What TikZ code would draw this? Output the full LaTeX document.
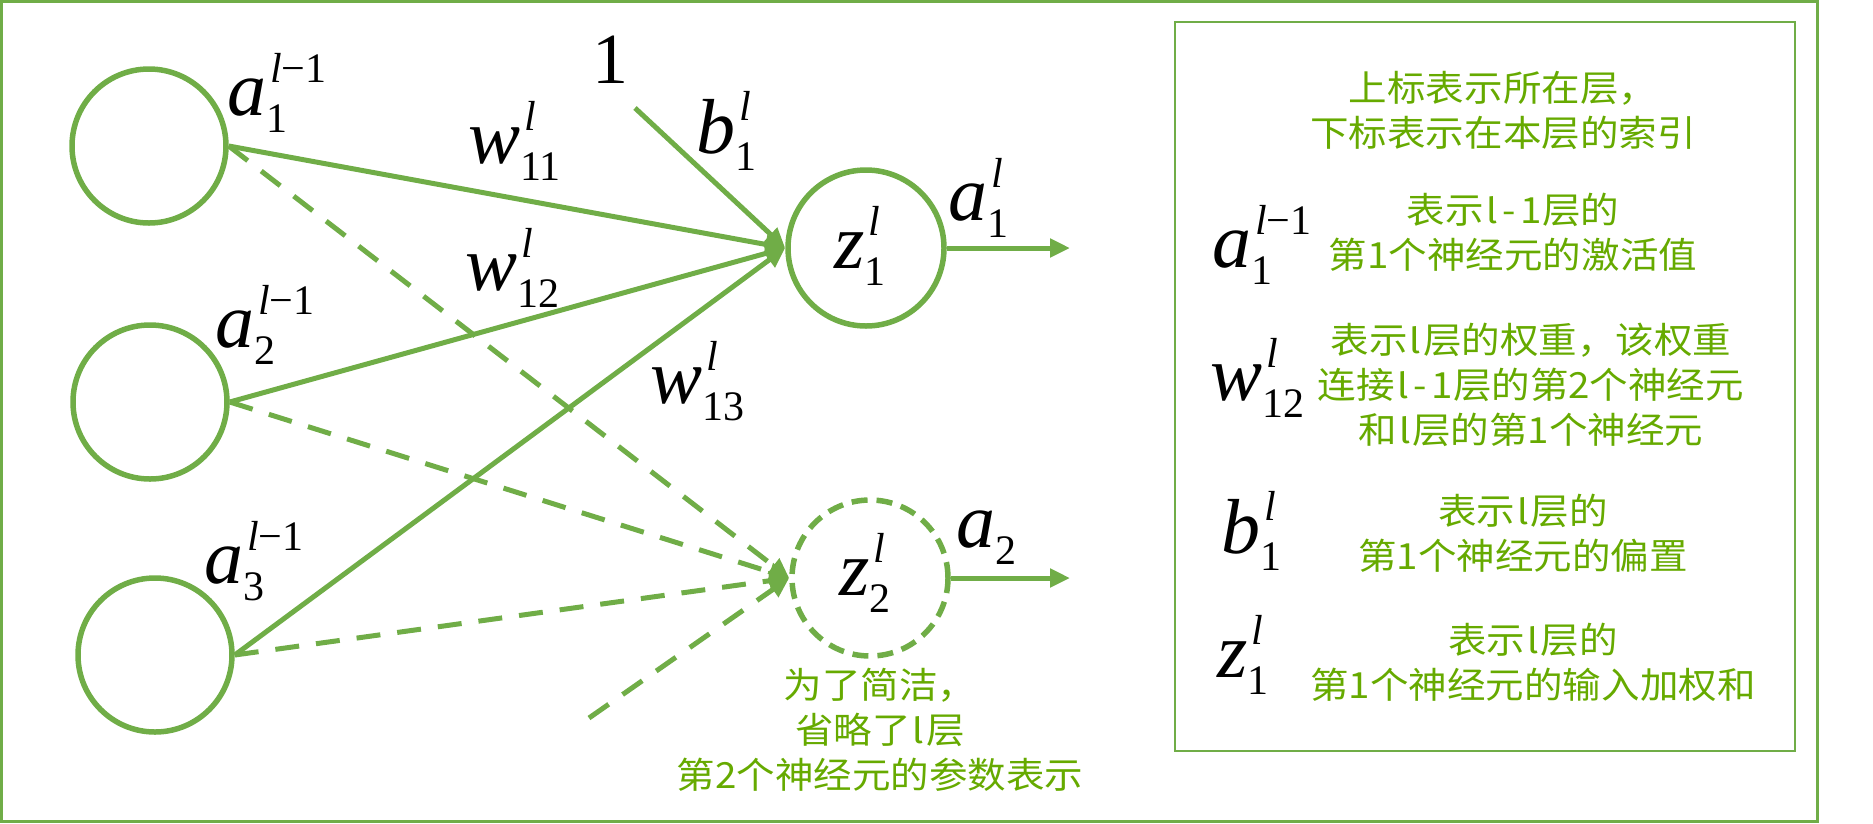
\documentclass[tikz,border=0pt]{standalone}
\usepackage{fontspec}
\usetikzlibrary{arrows.meta}
\newfontfamily\cjk[FakeStretch=1.07]{Noto Sans CJK SC}
\newfontfamily\fira[FakeStretch=1.07]{Fira Sans}
\newfontfamily\tnr{Liberation Serif}
\definecolor{lgreen}{RGB}{112,173,71}
\definecolor{tgreen}{RGB}{102,170,0}
\newcommand\bigf{\tnr\fontsize{78}{78}\selectfont}
\newcommand\smf{\tnr\fontsize{42}{42}\selectfont}
\newcommand\mv[3]{{\bigf\itshape #1}\makebox[0pt][l]{\raisebox{-17pt}{\smf #2}}\kern4pt\raisebox{33pt}{\smf #3}}
\newcommand\Lx{\kern2pt{\fira l}\kern2pt}
\newcommand\Lm{\kern2pt{\fira l}\kern5pt-\kern5pt1}
\tikzset{
 neuron/.style={circle, draw=lgreen, line width=5.5pt, minimum size=154pt, inner sep=0pt},
 conn/.style={draw=lgreen, line width=5pt, -{Triangle[length=20pt,width=18pt]}},
 dconn/.style={conn, dash pattern=on 24pt off 17pt},
 lab/.style={anchor=base west, inner sep=0pt},
 note/.style={text=tgreen, align=center, inner sep=0pt, font=\cjk\fontsize{36}{45}\selectfont},
 frame/.style={draw=lgreen, line width=3pt},
}
\begin{document}
\begin{tikzpicture}[x=1pt,y=-1pt]
\useasboundingbox (0,0) rectangle (1873,823);
\path[frame] (1.5,1.5) rectangle (1817,821.5);
\path[frame, line width=2.5pt] (1175,22) rectangle (1795,751);
% neurons
\node[neuron] (I1) at (149,146) {};
\node[neuron] (I2) at (150,402) {};
\node[neuron] (I3) at (155,655) {};
\node[neuron, minimum size=156pt] (Z1) at (866,248) {};
\node[neuron, minimum size=156pt, dash pattern=on 16pt off 9pt] (Z2) at (870,578) {};
\coordinate (B) at (635,108);
\coordinate (D) at (589,718);
\coordinate (O1) at (1070,248);
\coordinate (O2) at (1070,578);
% connectors
\path[dconn] (I1.east) -- (Z2.west);
\path[dconn] (I2.east) -- (Z2.west);
\path[dconn] (I3.east) -- (Z2.west);
\path[dconn] (D) -- (Z2.west);
\path[conn] (I1.east) -- (Z1.west);
\path[conn] (I2.east) -- (Z1.west);
\path[conn] (I3.east) -- (Z1.west);
\path[conn] (B) -- (Z1.west);
\path[conn] (Z1.east) -- (O1);
\path[conn] (Z2.east) -- (O2);
% labels
\node[lab] (la1) at (227,115) {\mv{a}{1}{\textit{l}−1}};
\node[lab] (la2) at (215,347) {\mv{a}{2}{\textit{l}−1}};
\node[lab] (la3) at (204,583) {\mv{a}{3}{\textit{l}−1}};
\node[lab] (lw11) at (468,163) {\mv{w}{11}{\textit{l}}};
\node[lab] (lw12) at (465,290) {\mv{w}{12}{\textit{l}}};
\node[lab] (lw13) at (650,403) {\mv{w}{13}{\textit{l}}};
\node[lab] (lb) at (696,153) {\mv{b}{1}{\textit{l}}};
\node[lab] (lone) at (592,83) {\tnr\fontsize{72}{72}\selectfont 1};
\node[lab] (lz1) at (834,268) {\mv{z}{1}{\textit{l}}};
\node[lab] (lz2) at (839,595) {\mv{z}{2}{\textit{l}}};
\node[lab] (lo1) at (948,220) {\mv{a}{1}{\textit{l}}};
\node[lab] (lo2) at (956,547) {\mv{a}{2}{}};
% legend
\node[note] (t0) at (1503,110) {上标表示所在层，\\下标表示在本层的索引};
\node[lab] (ka) at (1212,267) {\mv{a}{1}{\textit{l}−1}};
\node[note] (ta) at (1513,232) {表示\Lm 层的\\第1个神经元的激活值};
\node[lab] (kw) at (1210,400) {\mv{w}{12}{\textit{l}}};
\node[note] (tw) at (1531,385) {表示\Lx 层的权重，该权重\\连接\Lm 层的第2个神经元\\和\Lx 层的第1个神经元};
\node[lab] (kb) at (1221,553) {\mv{b}{1}{\textit{l}}};
\node[note] (tb) at (1523,533) {表示\Lx 层的\\第1个神经元的偏置};
\node[lab] (kz) at (1217,677) {\mv{z}{1}{\textit{l}}};
\node[note] (tz) at (1533,662) {表示\Lx 层的\\第1个神经元的输入加权和};
\node[note] (tn) at (880,730) {为了简洁，\\省略了\Lx 层\\第2个神经元的参数表示};
\end{tikzpicture}
\end{document}
